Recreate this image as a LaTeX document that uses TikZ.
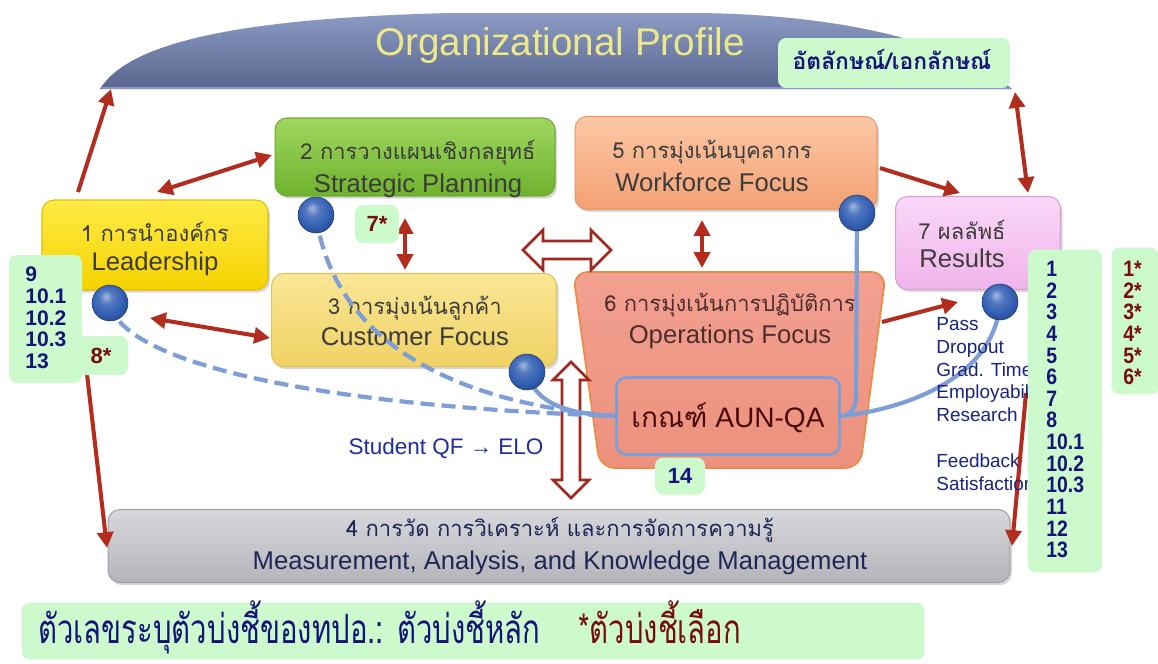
\documentclass[tikz,border=0pt]{standalone}
\usepackage{fontspec}
\setmainfont{Liberation Sans}
\newfontfamily\thai[Script=Thai]{Loma}
\usetikzlibrary{arrows.meta,shadows}
\definecolor{arrred}{RGB}{178,45,30}
\definecolor{hollred}{RGB}{160,40,30}
\definecolor{lgreen}{RGB}{205,250,205}
\definecolor{navy}{RGB}{20,20,120}
\definecolor{maroon}{RGB}{120,12,12}
\definecolor{boxtext}{RGB}{60,60,60}
\definecolor{balc}{RGB}{50,95,180}
\definecolor{bline}{RGB}{125,158,214}
\definecolor{sqblue}{RGB}{32,45,160}
\pgfdeclareradialshading{myball}{\pgfqpoint{-6bp}{10bp}}{%
  color(0bp)=(balc!45!white); color(10bp)=(balc!85!white); color(22bp)=(balc);
  color(30bp)=(balc!80!black); color(50bp)=(balc!55!black)}
\tikzset{
  boxbase/.style={rounded corners=0.24cm, inner sep=0pt, line width=0.6pt,
    drop shadow={shadow xshift=1.2pt, shadow yshift=-1.5pt, opacity=0.3}},
  boxlbl/.style={align=center, text=boxtext, inner sep=0pt},
  rarr/.style={draw=arrred, line width=2.3pt, -{Triangle[length=9pt,width=9pt]}},
  rarrb/.style={draw=arrred, line width=2.3pt, {Triangle[length=9pt,width=9pt]}-{Triangle[length=9pt,width=9pt]}},
  hollow/.style={draw=hollred, line width=1.5pt, fill=white, line join=miter},
  sphere/.style={circle, inner sep=0pt, minimum size=0.72cm, shading=myball, draw=balc!60!black, line width=0.3pt},
  bluesolid/.style={draw=bline, line width=2.4pt},
  bluedash/.style={draw=bline, line width=2.4pt, dash pattern=on 8pt off 4pt},
  greenlbl/.style={fill=lgreen, rounded corners=0.16cm, inner sep=0pt},
}
\newcommand{\thl}[1]{{\thai\fontsize{12.5}{15}\selectfont #1}}
\newcommand{\enl}[1]{{\fontsize{14.6}{17}\selectfont #1}}
\newcommand{\nr}[1]{\scalebox{0.87}[1]{#1}}
\begin{document}
\begin{tikzpicture}[x=0.02cm,y=-0.02cm]
\useasboundingbox (0,0) rectangle (1158,663);
\fill[white] (0,0) rectangle (1158,663);

% Organizational Profile banner
\shade[top color={rgb,255:red,140;green,155;blue,195}, bottom color={rgb,255:red,88;green,102;blue,142}]
  (100,89) .. controls (130,40) and (250,18) .. (450,13) -- (700,13)
  .. controls (850,15) and (960,45) .. (1012,89) -- cycle;
\draw[white!70!blue, line width=1pt, opacity=0.6] (102,88) -- (1010,88);
\node[text={rgb,255:red,238;green,232;blue,140}, font=\fontsize{22}{24}\selectfont] (op) at (560,46) {Organizational Profile};
\coordinate (opL) at (111,89);
\coordinate (opR) at (1015,92);

% identity label
\node[greenlbl, minimum width=4.64cm, minimum height=1.0cm] (idl) at (894,63) {};
\node[text=navy, font=\thai\bfseries\fontsize{13}{15}\selectfont] (idt) at (892,60) {อัตลักษณ์/เอกลักษณ์};

% boxes
\node[boxbase, draw={rgb,255:red,110;green,170;blue,50}, top color={rgb,255:red,160;green,215;blue,95}, bottom color={rgb,255:red,110;green,178;blue,45}, minimum width=5.6cm, minimum height=1.56cm] (sp) at (415,157) {};
\node[boxlbl] (spt) at (418,169) {\thl{2 การวางแผนเชิงกลยุทธ์}\\[3.5pt]\enl{Strategic Planning}};

\node[boxbase, draw={rgb,255:red,235;green,150;blue,100}, top color={rgb,255:red,252;green,200;blue,165}, bottom color={rgb,255:red,243;green,160;blue,115}, minimum width=6.04cm, minimum height=1.86cm] (wf) at (726,163) {};
\node[boxlbl] (wft) at (712,166) {\thl{5 การมุ่งเน้นบุคลากร}\\[3.5pt]\enl{Workforce Focus}};

\node[boxbase, draw={rgb,255:red,225;green,190;blue,0}, top color={rgb,255:red,255;green,235;blue,70}, bottom color={rgb,255:red,245;green,210;blue,0}, minimum width=4.52cm, minimum height=1.8cm] (ld) at (155,245) {};
\node[boxlbl] (ldt) at (155,249) {\thl{1 การนำองค์กร}\\[5pt]\enl{Leadership}};

\node[boxbase, draw={rgb,255:red,215;green,160;blue,210}, top color={rgb,255:red,250;green,215;blue,248}, bottom color={rgb,255:red,240;green,180;blue,235}, minimum width=3.3cm, minimum height=1.86cm] (rs) at (978,243) {};
\node[boxlbl] (rst) at (962,244) {\thl{7 ผลลัพธ์}\\[3.5pt]\enl{Results}};

\node[boxbase, draw={rgb,255:red,225;green,195;blue,90}, top color={rgb,255:red,250;green,230;blue,150}, bottom color={rgb,255:red,240;green,210;blue,100}, minimum width=5.7cm, minimum height=1.86cm] (cf) at (414,320) {};
\node[boxlbl] (cft) at (415,321) {\thl{3 การมุ่งเน้นลูกค้า}\\[3.5pt]\enl{Customer Focus}};

% operations focus shape
\shade[draw={rgb,255:red,235;green,140;blue,70}, line width=1pt, rounded corners=0.3cm,
  top color={rgb,255:red,242;green,160;blue,145}, bottom color={rgb,255:red,236;green,145;blue,125}]
  (573,272) -- (886,272) -- (860,468) -- (600,468) -- cycle;
\node[boxlbl, text={rgb,255:red,80;green,45;blue,45}] (ops) at (730,321) {\thl{6 การมุ่งเน้นการปฏิบัติการ}\\[3.5pt]\enl{Operations Focus}};

\node[draw=bline, line width=1.6pt, rounded corners=0.2cm, minimum width=4.46cm, minimum height=1.54cm, inner sep=0pt] (aun) at (728,416) {};
\node[text={rgb,255:red,75;green,10;blue,10}, font=\fontsize{16}{18}\selectfont, inner sep=0pt] (aunt) at (728,418) {{\thai เกณฑ์} AUN-QA};

\node[boxbase, draw={rgb,255:red,160;green,160;blue,165}, top color={rgb,255:red,215;green,215;blue,220}, bottom color={rgb,255:red,180;green,180;blue,186}, minimum width=18.04cm, minimum height=1.46cm] (ms) at (559,546) {};
\node[boxlbl, text={rgb,255:red,30;green,38;blue,85}] (mst) at (560,546) {\thl{4 การวัด การวิเคราะห์ และการจัดการความรู้}\\[3.5pt]\enl{Measurement, Analysis, and Knowledge Management}};

% red connectors
\coordinate (a1s) at (78,192);
\coordinate (a2s) at (157,192); \coordinate (a2e) at (272,155);
\coordinate (a3s) at (150,318); \coordinate (a3e) at (270,338);
\coordinate (a4s) at (405,218); \coordinate (a4e) at (405,270);
\coordinate (a5s) at (702,220); \coordinate (a5e) at (702,268);
\coordinate (a6s) at (880,168); \coordinate (a6e) at (960,193);
\coordinate (a7e) at (1028,193);
\coordinate (a8s) at (882,322); \coordinate (a8e) at (958,302);
\coordinate (a9s) at (87,374); \coordinate (a9e) at (107,548);
\coordinate (a10s) at (1026,393); \coordinate (a10e) at (1012,546);
\draw[rarr] (a1s) -- (opL);
\draw[rarrb] (a2s) -- (a2e);
\draw[rarrb] (a3s) -- (a3e);
\draw[rarrb] (a4s) -- (a4e);
\draw[rarrb] (a5s) -- (a5e);
\draw[rarr] (a6s) -- (a6e);
\draw[rarrb] (opR) -- (a7e);
\draw[rarr] (a8s) -- (a8e);
\draw[rarr] (a9s) -- (a9e);
\draw[rarr] (a10s) -- (a10e);

% hollow arrows
\draw[hollow] (523,250) -- (543,230) -- (543,241) -- (591,241) -- (591,230) -- (611,250) -- (591,270) -- (591,259) -- (543,259) -- (543,270) -- cycle;
\draw[hollow] (571,362) -- (553,380) -- (562,380) -- (562,480) -- (553,480) -- (571,498) -- (589,480) -- (580,480) -- (580,380) -- (589,380) -- cycle;

% spheres (positions)
\coordinate (bsp) at (316,215);
\coordinate (bld) at (110,303);
\coordinate (bcf) at (527,372);
\coordinate (bwf) at (857,213);
\coordinate (brs) at (1000,302);

% blue links
\draw[bluedash] (bld) .. controls (120,360) and (300,405) .. (aun.west);
\draw[bluedash] (bsp) .. controls (330,320) and (420,400) .. (aun.west);
\draw[bluesolid] (bcf) .. controls (535,405) and (570,414) .. (aun.west);
\draw[bluesolid] (bwf) -- (856,395) .. controls (856,410) and (850,415) .. (aun.east);
\draw[bluesolid] (brs) .. controls (995,380) and (900,410) .. (aun.east);
\node[sphere] (sbsp) at (bsp) {};
\node[sphere] (sbld) at (bld) {};
\node[sphere] (sbcf) at (bcf) {};
\node[sphere] (sbwf) at (bwf) {};
\node[sphere] (sbrs) at (brs) {};

% student QF label
\node[text=sqblue, font=\fontsize{12.8}{15}\selectfont] (sqf) at (446,448) {Student QF → ELO};

% results indicators
\node[anchor=north west, align=left, text=sqblue!80!black, font=\fontsize{10.8}{13}\selectfont, inner sep=0pt] (res) at (936,317)
  {Pass\\Dropout\\Grad. Time\\Employability\\Research\\\mbox{}\\Feedback\\Satisfaction};

% green lists
\fill[lgreen, rounded corners=0.16cm] (9,255) rectangle (82,383);
\fill[lgreen, rounded corners=0.16cm] (76,336) rectangle (128,375);
\node[anchor=north west, align=left, text=navy, font=\bfseries\fontsize{12}{12.5}\selectfont, inner sep=0pt] (llist) at (25,266) {9\\10.1\\10.2\\10.3\\13};
\node[text=maroon, font=\bfseries\fontsize{12.5}{15}\selectfont] (l8) at (101,356) {8*};

\node[greenlbl, minimum width=0.88cm, minimum height=0.76cm] (s7) at (377,224) {};
\node[text=maroon, font=\bfseries\fontsize{12.5}{15}\selectfont] (s7t) at (377,224) {7*};

\node[greenlbl, minimum width=1.0cm, minimum height=0.74cm] (n14) at (680,476) {};
\node[text=navy, font=\bfseries\fontsize{12.5}{15}\selectfont] (n14t) at (680,476) {14};

\node[greenlbl, minimum width=1.48cm, minimum height=6.46cm] (rl) at (1065,411) {};
\node[anchor=north west, align=left, text=navy, font=\bfseries\fontsize{12.7}{12.3}\selectfont, inner sep=0pt] (rlt) at (1046,261)
  {\nr{1}\\\nr{2}\\\nr{3}\\\nr{4}\\\nr{5}\\\nr{6}\\\nr{7}\\\nr{8}\\\nr{10.1}\\\nr{10.2}\\\nr{10.3}\\\nr{11}\\\nr{12}\\\nr{13}};

\node[greenlbl, minimum width=0.94cm, minimum height=2.94cm] (sl) at (1135,321) {};
\node[anchor=north west, align=left, text=maroon, font=\bfseries\fontsize{12.7}{12.3}\selectfont, inner sep=0pt] (slt) at (1123,261)
  {\nr{1*}\\\nr{2*}\\\nr{3*}\\\nr{4*}\\\nr{5*}\\\nr{6*}};

% bottom legend
\node[greenlbl, minimum width=18.06cm, minimum height=1.14cm] (leg) at (473,631) {};
\node[anchor=west, inner sep=0pt, font=\thai\fontsize{23}{25}\selectfont] (legt) at (38,627)
  {\scalebox{0.725}[1]{\textcolor{navy}{ตัวเลขระบุตัวบ่งชี้ของทปอ.: ตัวบ่งชี้หลัก}}\hspace{0.76cm}\scalebox{0.725}[1]{\textcolor{maroon}{*ตัวบ่งชี้เลือก}}};
\end{tikzpicture}
\end{document}
